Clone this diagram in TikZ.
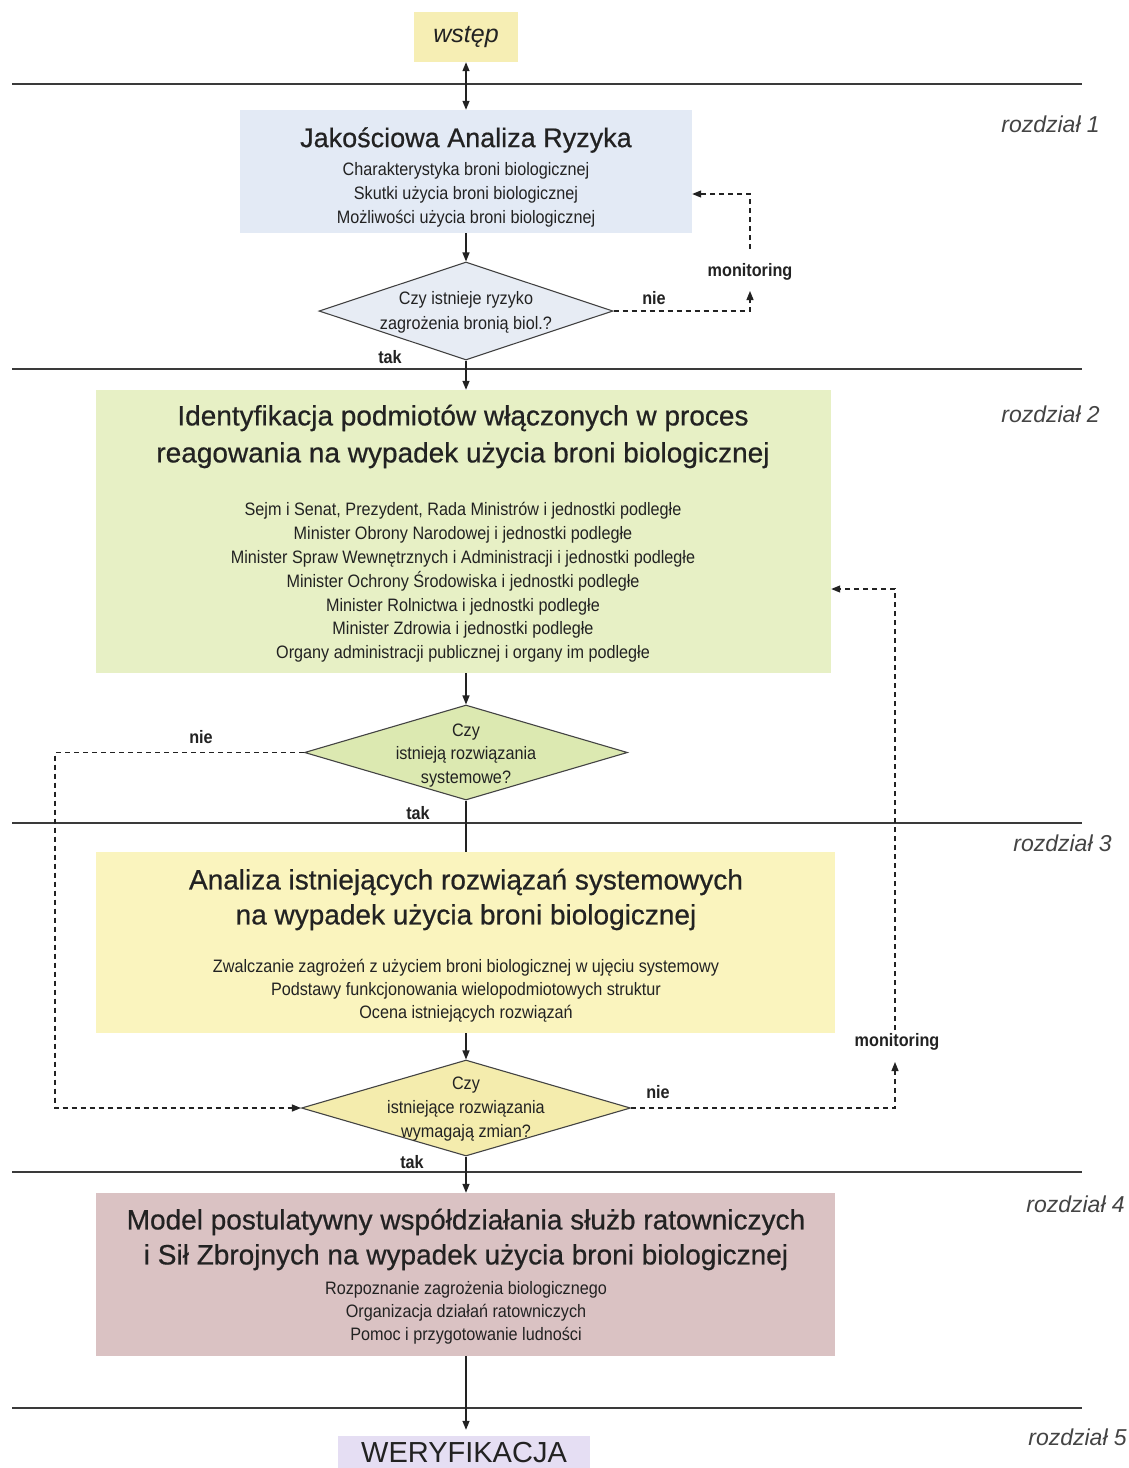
\documentclass[tikz,border=0pt]{standalone}
\usepackage{fontspec}
\setmainfont{Liberation Sans}
\newfontfamily\narrowsans[FakeStretch=0.9]{Liberation Sans}
\newfontfamily\headsans[FakeBold=0.6]{Liberation Sans}
\usetikzlibrary{shapes.geometric,arrows.meta}

\definecolor{inkc}{HTML}{222222}
\definecolor{rulec}{HTML}{3A3A3A}
\definecolor{chapc}{HTML}{444444}
\definecolor{introfill}{HTML}{F6EEB4}
\definecolor{bluefill}{HTML}{E3EAF5}
\definecolor{bluedia}{HTML}{E7ECF4}
\definecolor{greenfill}{HTML}{E7F0C5}
\definecolor{greendia}{HTML}{DCE9B1}
\definecolor{yellowfill}{HTML}{FAF4BE}
\definecolor{yellowdia}{HTML}{F4ECAD}
\definecolor{pinkfill}{HTML}{DAC2C3}
\definecolor{lilacfill}{HTML}{E5DEF3}

\tikzset{
  every node/.style={text=inkc},
  box/.style={rectangle, inner sep=0pt, draw=none},
  dia/.style={diamond, draw=inkc!85, line width=1.1pt, inner sep=0pt},
  tipend/.style={-{Triangle[length=9pt,width=7pt]}},
  flow/.style={line width=1.3pt, draw=inkc, tipend},
  plain/.style={line width=1.3pt, draw=inkc},
  loopline/.style={line width=1.2pt, draw=inkc, dash pattern=on 5pt off 4pt, tipend},
  rule/.style={line width=1.8pt, draw=rulec},
  chap/.style={font=\itshape\fontsize{23}{27}\selectfont, text=chapc, anchor=east, inner sep=0pt},
  tag/.style={font=\narrowsans\bfseries\fontsize{18}{20}\selectfont, inner sep=0pt},
  ttl/.style={font=\headsans\fontsize{28}{36}\selectfont, align=center, inner sep=0pt},
  items/.style={font=\narrowsans\fontsize{18}{23.8}\selectfont, align=center, inner sep=0pt},
}

\begin{document}
\begin{tikzpicture}[x=1pt,y=-1pt]
\useasboundingbox[fill=white] (0,0) rectangle (1129,1468);

% chapter separators
\foreach \yy in {84,369,823,1172,1408}
  \draw[rule] (12,\yy) -- (1082,\yy);

% chapter captions
\node[chap] (r1) at (1100,124) {rozdział 1};
\node[chap] (r2) at (1100,414) {rozdział 2};
\node[chap] (r3) at (1112,843) {rozdział 3};
\node[chap] (r4) at (1125,1204) {rozdział 4};
\node[chap] (r5) at (1127,1437) {rozdział 5};

% introduction
\node[box, fill=introfill, minimum width=104pt, minimum height=50pt,
      font=\itshape\fontsize{25}{30}\selectfont] (wstep) at (466,37) {wstęp};

% stage 1
\node[box, fill=bluefill, minimum width=452pt, minimum height=123pt] (b1) at (466,171.5) {};
\node[ttl, font=\headsans\fontsize{27}{36}\selectfont] (b1ttl) at (466,140) {Jakościowa Analiza Ryzyka};
\node[items] (b1txt) at (466,195) {Charakterystyka broni biologicznej\\Skutki użycia broni biologicznej\\Możliwości użycia broni biologicznej};

\node[dia, fill=bluedia, minimum width=294pt, minimum height=98pt] (d1) at (466,311) {};
\node[items, font=\narrowsans\fontsize{18}{25}\selectfont] (d1txt) at (466,312.5) {Czy istnieje ryzyko\\zagrożenia bronią biol.?};

% stage 2
\node[box, fill=greenfill, minimum width=735pt, minimum height=283pt] (b2) at (463.5,531.5) {};
\node[ttl, font=\headsans\fontsize{28}{37}\selectfont] (b2ttl) at (463,436.5) {Identyfikacja podmiotów włączonych w proces\\reagowania na wypadek użycia broni biologicznej};
\node[items] (b2txt) at (463,582.5) {Sejm i Senat, Prezydent, Rada Ministrów i jednostki podległe\\Minister Obrony Narodowej i jednostki podległe\\Minister Spraw Wewnętrznych i Administracji i jednostki podległe\\Minister Ochrony Środowiska i jednostki podległe\\Minister Rolnictwa i jednostki podległe\\Minister Zdrowia i jednostki podległe\\Organy administracji publicznej i organy im podległe};

\node[dia, fill=greendia, minimum width=323pt, minimum height=95pt] (d2) at (466,752.5) {};
\node[items, font=\narrowsans\fontsize{18}{23.5}\selectfont] (d2txt) at (466,755.5) {Czy\\istnieją rozwiązania\\systemowe?};

% stage 3
\node[box, fill=yellowfill, minimum width=739pt, minimum height=181pt] (b3) at (465.5,942.5) {};
\node[ttl, font=\headsans\fontsize{28}{35}\selectfont] (b3ttl) at (466,899.5) {Analiza istniejących rozwiązań systemowych\\na wypadek użycia broni biologicznej};
\node[items, font=\narrowsans\fontsize{18}{23}\selectfont] (b3txt) at (466,991) {Zwalczanie zagrożeń z użyciem broni biologicznej w ujęciu systemowy\\Podstawy funkcjonowania wielopodmiotowych struktur\\Ocena istniejących rozwiązań};

\node[dia, fill=yellowdia, minimum width=329pt, minimum height=96pt] (d3) at (466,1108) {};
\node[items, font=\narrowsans\fontsize{18}{24}\selectfont] (d3txt) at (466,1109) {Czy\\istniejące rozwiązania\\wymagają zmian?};

% stage 4
\node[box, fill=pinkfill, minimum width=739pt, minimum height=163pt] (b4) at (465.5,1274.5) {};
\node[ttl, font=\headsans\fontsize{28}{35}\selectfont] (b4ttl) at (466,1239.5) {Model postulatywny współdziałania służb ratowniczych\\i Sił Zbrojnych na wypadek użycia broni biologicznej};
\node[items, font=\narrowsans\fontsize{18}{23}\selectfont] (b4txt) at (466,1313) {Rozpoznanie zagrożenia biologicznego\\Organizacja działań ratowniczych\\Pomoc i przygotowanie ludności};

% stage 5
\node[box, fill=lilacfill, minimum width=252pt, minimum height=32pt,
      font=\fontsize{29}{32}\selectfont] (wer) at (464,1452) {WERYFIKACJA};

% decision labels
\node[tag] (nie1) at (654,298) {nie};
\node[tag] (tak1) at (390,357) {tak};
\node[tag] (mon1) at (750,272) {monitoring};
\node[tag] (nie2) at (201,737) {nie};
\node[tag] (tak2) at (418,813) {tak};
\node[tag] (nie3) at (658,1092) {nie};
\node[tag] (tak3) at (412,1162) {tak};
\node[tag] (mon2) at (897,1042) {monitoring};

% main flow
\draw[line width=1.3pt, draw=inkc, {Triangle[length=9pt,width=7pt]}-{Triangle[length=9pt,width=7pt]}]
  (wstep.south) -- (wstep.south |- b1.north);
\draw[flow] (d1.north |- b1.south) -- (d1.north);
\draw[flow] (d1.south) -- (d1.south |- b2.north);
\draw[flow] (d2.north |- b2.south) -- (d2.north);
\draw[plain] (d2.south) -- (d2.south |- b3.north);
\draw[flow] (d3.north |- b3.south) -- (d3.north);
\draw[flow] (d3.south) -- (d3.south |- b4.north);
\draw[flow, shorten >=6pt] (d3.south |- b4.south) -- (d3.south |- wer.north);

% feedback loops
\coordinate (k1) at (750,311);
\coordinate (m1in) at (750,291);
\coordinate (m1out) at (750,249);
\coordinate (k2) at (750,194);
\draw[loopline] (d1.east) -- (k1) -- (m1in);
\draw[loopline] (m1out) -- (k2) -- (k2 -| b1.east);

\coordinate (k3) at (895,1108);
\coordinate (m2in) at (895,1062);
\coordinate (m2out) at (895,1030);
\coordinate (k4) at (895,589);
\draw[loopline] (d3.east) -- (k3) -- (m2in);
\draw[loopline] (m2out) -- (k4) -- (k4 -| b2.east);

\coordinate (k5) at (55,752.5);
\coordinate (k6) at (55,1108);
\draw[loopline] (d2.west) -- (k5) -- (k6) -- (d3.west);

\end{tikzpicture}
\end{document}
